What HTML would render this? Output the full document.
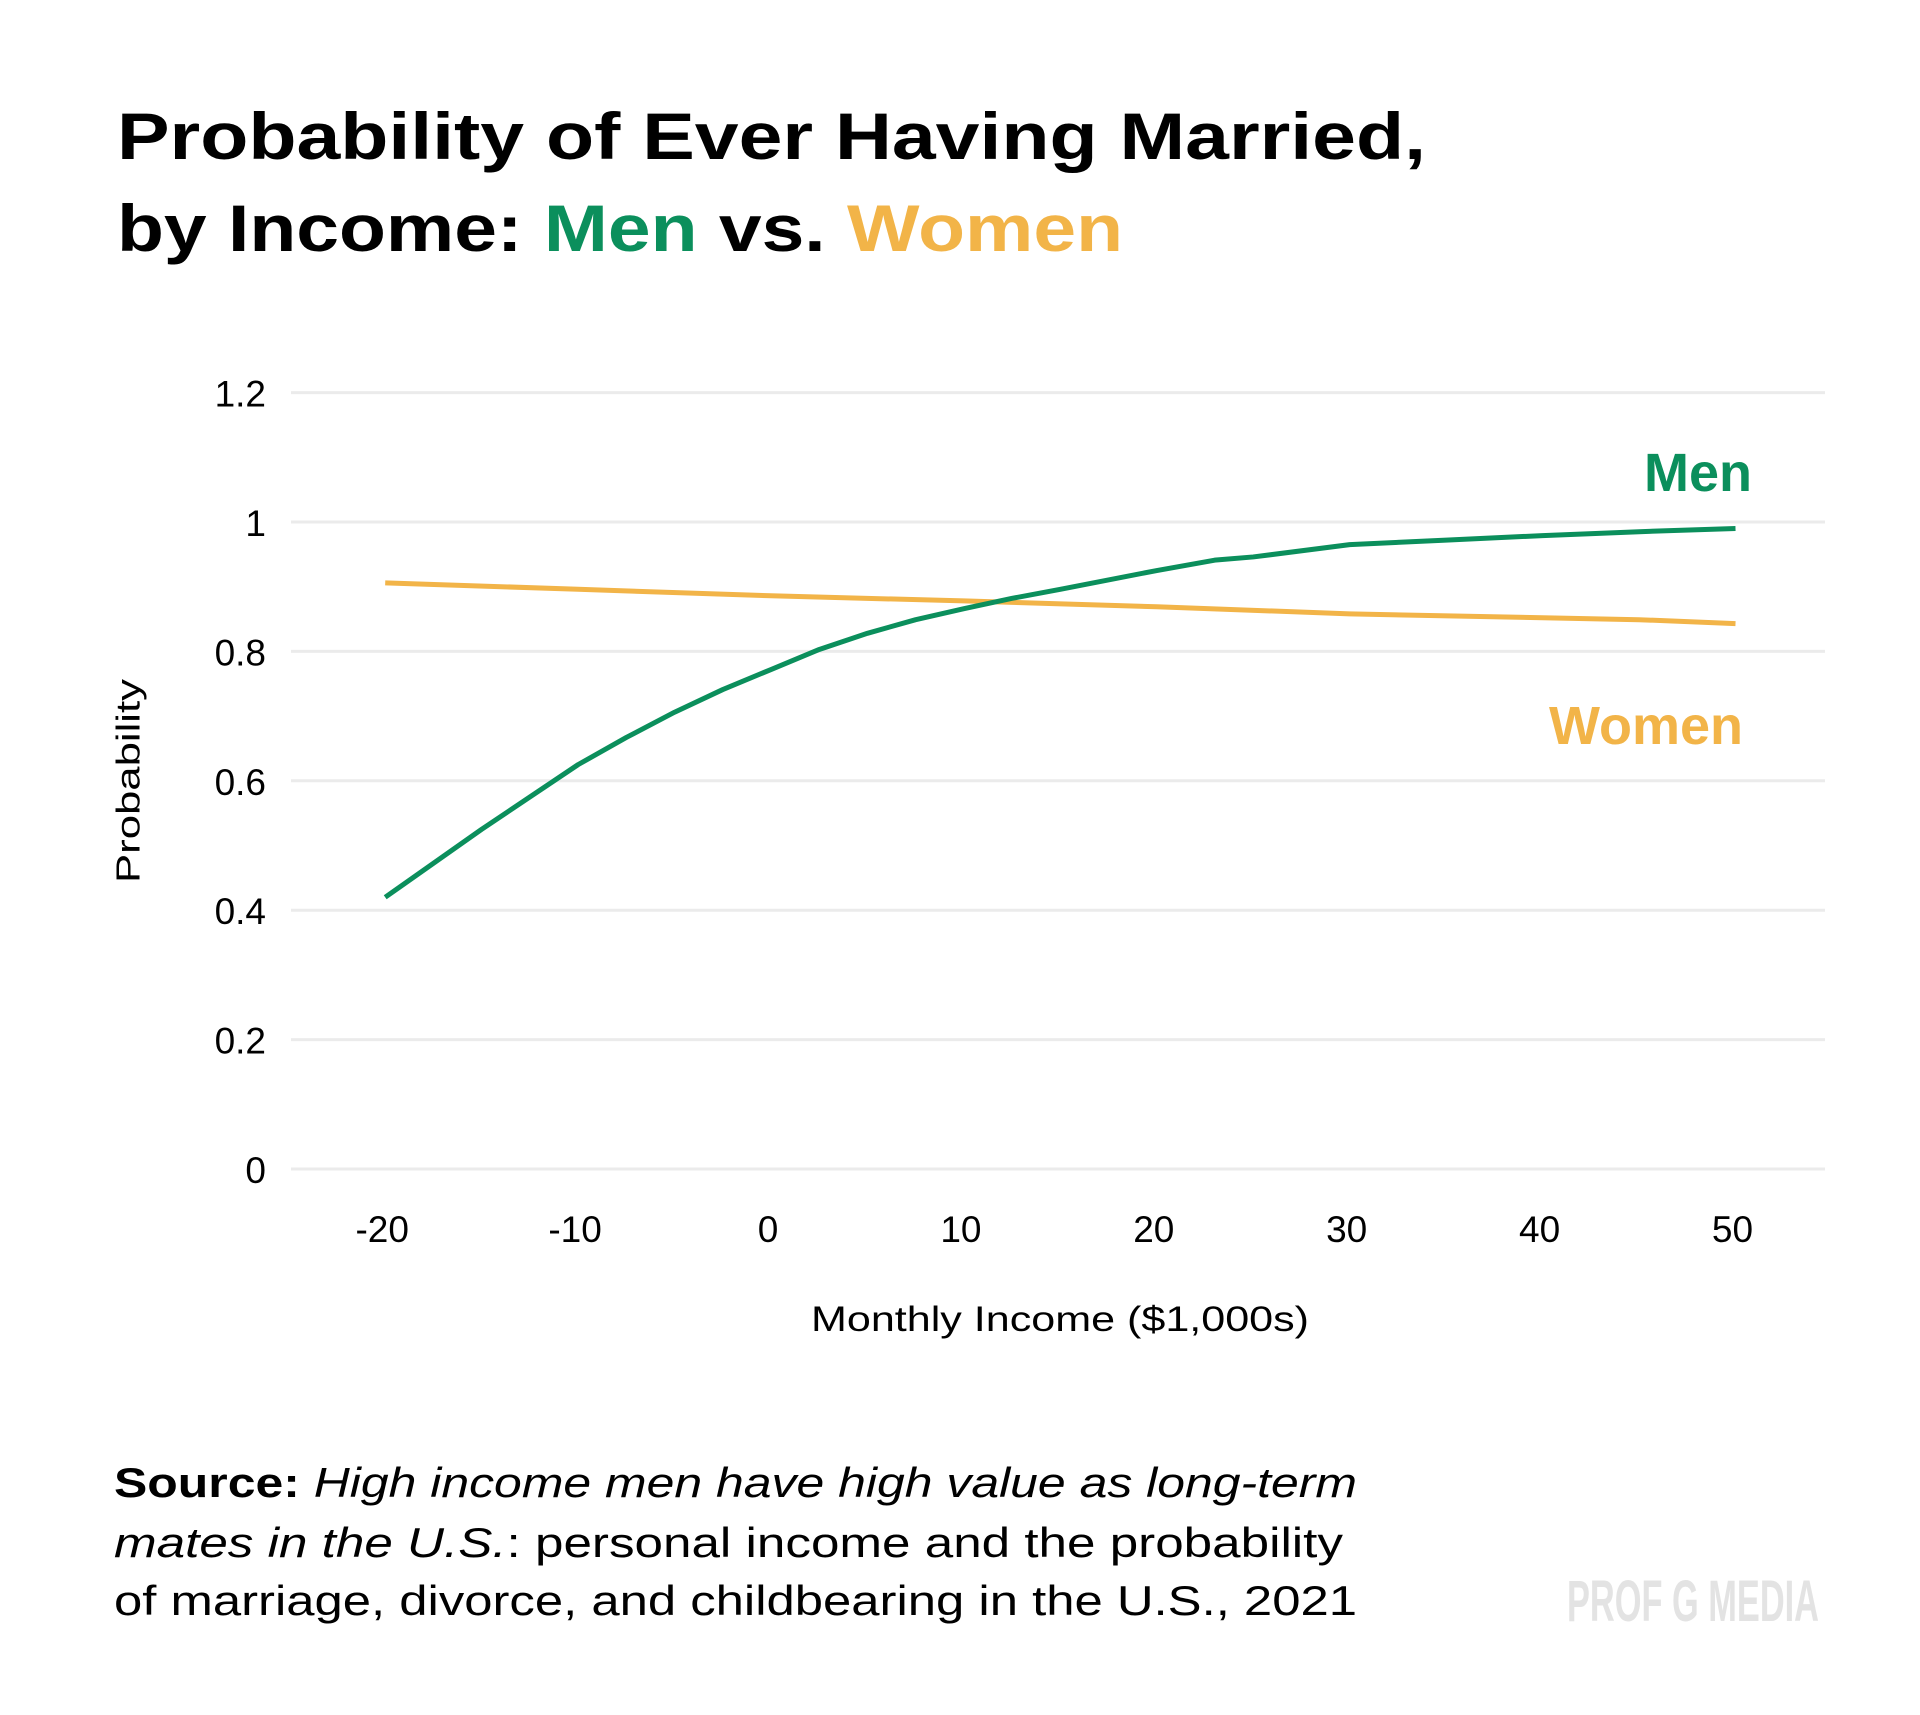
<!DOCTYPE html>
<html><head><meta charset="utf-8"><style>
html,body{margin:0;padding:0;background:#fff;}
svg{display:block;font-family:"Liberation Sans",sans-serif;}
</style></head><body>
<svg id="chart" width="1920" height="1715" viewBox="0 0 1920 1715">
<rect width="1920" height="1715" fill="#fff"/>
<g font-weight="bold" font-size="66" fill="#000">
<text x="117" y="159" textLength="1309" lengthAdjust="spacingAndGlyphs">Probability of Ever Having Married,</text>
<text x="117" y="251" textLength="1006" lengthAdjust="spacingAndGlyphs">by Income: <tspan fill="#0b8f5c">Men</tspan> vs. <tspan fill="#f2b448">Women</tspan></text>
</g>
<g id="grid"></g>
<g id="yticks"></g>
<g id="xticks"></g>
<g id="series"></g>
<text x="131" y="781" transform="rotate(-90 131 781)" text-anchor="middle" dominant-baseline="middle" font-size="33" fill="#000" textLength="204" lengthAdjust="spacingAndGlyphs">Probability</text>
<text x="1060" y="1331" text-anchor="middle" font-size="35" fill="#000" textLength="498" lengthAdjust="spacingAndGlyphs">Monthly Income ($1,000s)</text>
<text x="1752" y="491" text-anchor="end" font-size="54" font-weight="bold" fill="#0b8f5c">Men</text>
<text x="1743" y="744" text-anchor="end" font-size="54" font-weight="bold" fill="#f2b448">Women</text>
<g font-size="42" fill="#000">
<text x="114" y="1497" textLength="1243" lengthAdjust="spacingAndGlyphs"><tspan font-weight="bold">Source:</tspan> <tspan font-style="italic">High income men have high value as long-term</tspan></text>
<text x="114" y="1557" textLength="1229" lengthAdjust="spacingAndGlyphs"><tspan font-style="italic">mates in the U.S.</tspan>: personal income and the probability</text>
<text x="114" y="1615" textLength="1243" lengthAdjust="spacingAndGlyphs">of marriage, divorce, and childbearing in the U.S., 2021</text>
</g>
<text x="1567" y="1621" font-size="58" font-weight="bold" fill="#e3e3e3" textLength="252" lengthAdjust="spacingAndGlyphs">PROF G MEDIA</text>
</svg>
<script>
const yTicks = [0, 0.2, 0.4, 0.6, 0.8, 1, 1.2];
const yTickLabels = ["0", "0.2", "0.4", "0.6", "0.8", "1", "1.2"];
const xTicks = [-20, -10, 0, 10, 20, 30, 40, 50];
const xTickLabels = ["-20", "-10", "0", "10", "20", "30", "40", "50"];
const menX = [-20, -15, -10, -7.5, -5, -2.5, 0, 2.5, 5, 7.5, 10, 12.5, 15, 20, 23, 25, 30, 35, 40, 45, 50];
const menY = [0.42, 0.525, 0.625, 0.667, 0.706, 0.741, 0.772, 0.803, 0.828, 0.849, 0.866, 0.882, 0.896, 0.925, 0.941, 0.946, 0.965, 0.972, 0.979, 0.985, 0.99];
const womenX = [-20, -10, 0, 10, 20, 30, 40, 45, 50];
const womenY = [0.906, 0.896, 0.886, 0.878, 0.869, 0.858, 0.852, 0.849, 0.843];

const NS = "http://www.w3.org/2000/svg";
function xs(v){ return 771 + (v) * 19.29; }
function ys(v){ return 1169 - v * 647; }

const grid = document.getElementById('grid');
const yt = document.getElementById('yticks');
yTicks.forEach((v, i) => {
  const l = document.createElementNS(NS, 'line');
  l.setAttribute('x1', 291); l.setAttribute('x2', 1825);
  l.setAttribute('y1', ys(v)); l.setAttribute('y2', ys(v));
  l.setAttribute('stroke', '#ebebeb'); l.setAttribute('stroke-width', 3);
  
  
  grid.appendChild(l);
  const t = document.createElementNS(NS, 'text');
  t.setAttribute('x', 266); t.setAttribute('y', ys(v) + 14);
  t.setAttribute('text-anchor', 'end'); t.setAttribute('font-size', 37);
  t.textContent = yTickLabels[i];
  
  
  yt.appendChild(t);
});
const xt = document.getElementById('xticks');
xTicks.forEach((v, i) => {
  const t = document.createElementNS(NS, 'text');
  t.setAttribute('x', xs(v) - 3); t.setAttribute('y', 1242);
  t.setAttribute('text-anchor', 'middle'); t.setAttribute('font-size', 37);
  t.textContent = xTickLabels[i];
  
  
  xt.appendChild(t);
});
const series = document.getElementById('series');
function drawLine(xa, ya, color, name){
  const p = document.createElementNS(NS, 'polyline');
  p.setAttribute('points', xa.map((x, i) => xs(x) + ',' + ys(ya[i])).join(' '));
  p.setAttribute('fill', 'none'); p.setAttribute('stroke', color);
  p.setAttribute('stroke-width', 5); p.setAttribute('stroke-linejoin', 'round');
  
  
  series.appendChild(p);
}
drawLine(womenX, womenY, '#f2b448', 'women-line');
drawLine(menX, menY, '#0b8f5c', 'men-line');
</script>
</body></html>
